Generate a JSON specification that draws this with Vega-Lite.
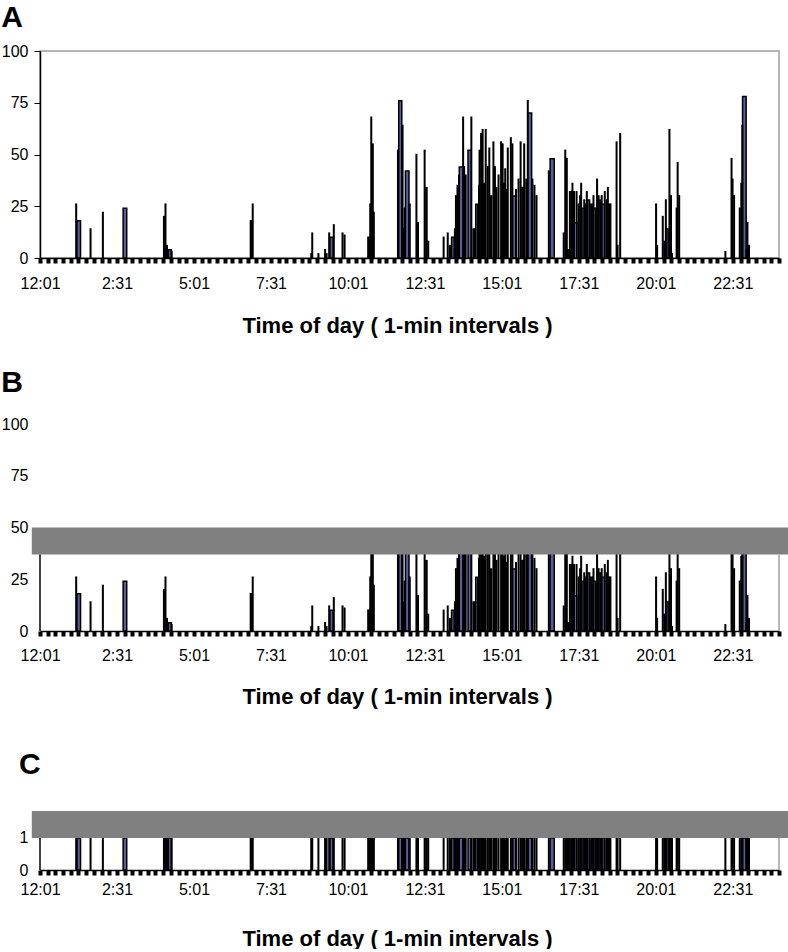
{
  "$schema": "https://vega.github.io/schema/vega-lite/v6.json",
  "padding": {"left": 0, "right": 0, "top": 2, "bottom": 0},
  "background": "white",
  "spacing": 31,
  "config": {
    "font": "Liberation Sans",
    "axis": {"labelFont": "Liberation Sans", "labelColor": "#000", "titleFont": "Liberation Sans", "titleColor": "#000", "grid": false},
    "title": {"font": "Liberation Sans", "fontWeight": "bold", "fontSize": 30, "anchor": "start", "color": "#000"}
  },
  "datasets": {
    "bars": [
      {"s": 72, "e": 79, "v": 18}, {"s": 162, "e": 169, "v": 24}, {"s": 250, "e": 256, "v": 4},
      {"s": 565, "e": 571, "v": 10}, {"s": 639, "e": 642, "v": 10}, {"s": 699, "e": 705, "v": 76},
      {"s": 712, "e": 719, "v": 42}, {"s": 752, "e": 754, "v": 34}, {"s": 798, "e": 800, "v": 6},
      {"s": 802, "e": 807, "v": 10}, {"s": 817, "e": 824, "v": 44}, {"s": 834, "e": 840, "v": 52},
      {"s": 849, "e": 853, "v": 26}, {"s": 864, "e": 866, "v": 36}, {"s": 877, "e": 880, "v": 30},
      {"s": 903, "e": 905, "v": 36}, {"s": 921, "e": 927, "v": 30}, {"s": 939, "e": 942, "v": 34},
      {"s": 951, "e": 958, "v": 70}, {"s": 994, "e": 1002, "v": 48}, {"s": 1027, "e": 1030, "v": 4},
      {"s": 1041, "e": 1046, "v": 17}, {"s": 1056, "e": 1060, "v": 24}, {"s": 1067, "e": 1071, "v": 28},
      {"s": 1079, "e": 1083, "v": 24}, {"s": 1095, "e": 1100, "v": 26}, {"s": 1107, "e": 1110, "v": 26},
      {"s": 1220, "e": 1224, "v": 14}, {"s": 1369, "e": 1376, "v": 78}, {"s": 246, "e": 248, "v": 6},
      {"s": 70, "e": 71, "v": 26}, {"s": 98, "e": 99, "v": 14}, {"s": 122, "e": 123, "v": 22},
      {"s": 241, "e": 242, "v": 20}, {"s": 244, "e": 245, "v": 26}, {"s": 256, "e": 257, "v": 3},
      {"s": 410, "e": 412, "v": 18}, {"s": 414, "e": 415, "v": 26}, {"s": 528, "e": 529, "v": 2},
      {"s": 530, "e": 531, "v": 12}, {"s": 542, "e": 543, "v": 2}, {"s": 555, "e": 556, "v": 4},
      {"s": 558, "e": 559, "v": 2}, {"s": 563, "e": 564, "v": 12}, {"s": 572, "e": 573, "v": 16},
      {"s": 589, "e": 590, "v": 12}, {"s": 593, "e": 594, "v": 11}, {"s": 643, "e": 644, "v": 26},
      {"s": 645, "e": 646, "v": 68}, {"s": 648, "e": 649, "v": 55}, {"s": 650, "e": 651, "v": 22},
      {"s": 697, "e": 698, "v": 52}, {"s": 706, "e": 707, "v": 64}, {"s": 708, "e": 709, "v": 14},
      {"s": 710, "e": 711, "v": 24}, {"s": 720, "e": 721, "v": 26}, {"s": 733, "e": 734, "v": 50},
      {"s": 736, "e": 737, "v": 17}, {"s": 749, "e": 750, "v": 52}, {"s": 756, "e": 757, "v": 8},
      {"s": 786, "e": 787, "v": 10}, {"s": 794, "e": 795, "v": 12}, {"s": 808, "e": 809, "v": 14},
      {"s": 810, "e": 811, "v": 30}, {"s": 813, "e": 814, "v": 35}, {"s": 816, "e": 817, "v": 40},
      {"s": 824, "e": 825, "v": 68}, {"s": 826, "e": 827, "v": 44}, {"s": 829, "e": 830, "v": 40},
      {"s": 840, "e": 841, "v": 68}, {"s": 844, "e": 845, "v": 14}, {"s": 847, "e": 848, "v": 14},
      {"s": 855, "e": 856, "v": 35}, {"s": 856, "e": 857, "v": 52}, {"s": 859, "e": 860, "v": 60},
      {"s": 862, "e": 863, "v": 62}, {"s": 868, "e": 869, "v": 62}, {"s": 872, "e": 873, "v": 44},
      {"s": 875, "e": 876, "v": 53}, {"s": 883, "e": 884, "v": 56}, {"s": 886, "e": 887, "v": 44},
      {"s": 889, "e": 890, "v": 34}, {"s": 893, "e": 894, "v": 40}, {"s": 898, "e": 899, "v": 56},
      {"s": 901, "e": 902, "v": 55}, {"s": 906, "e": 907, "v": 43}, {"s": 908, "e": 909, "v": 33},
      {"s": 911, "e": 912, "v": 53}, {"s": 917, "e": 918, "v": 58}, {"s": 920, "e": 921, "v": 55},
      {"s": 927, "e": 928, "v": 33}, {"s": 932, "e": 933, "v": 38}, {"s": 936, "e": 937, "v": 56},
      {"s": 943, "e": 944, "v": 55}, {"s": 947, "e": 948, "v": 38}, {"s": 950, "e": 951, "v": 76},
      {"s": 959, "e": 960, "v": 38}, {"s": 963, "e": 964, "v": 35}, {"s": 967, "e": 968, "v": 30},
      {"s": 991, "e": 992, "v": 42}, {"s": 1020, "e": 1021, "v": 12}, {"s": 1023, "e": 1024, "v": 52},
      {"s": 1026, "e": 1027, "v": 48}, {"s": 1032, "e": 1033, "v": 32}, {"s": 1035, "e": 1036, "v": 32},
      {"s": 1037, "e": 1038, "v": 36}, {"s": 1040, "e": 1041, "v": 32}, {"s": 1045, "e": 1046, "v": 32},
      {"s": 1049, "e": 1050, "v": 26}, {"s": 1052, "e": 1053, "v": 30}, {"s": 1054, "e": 1055, "v": 36},
      {"s": 1060, "e": 1061, "v": 28}, {"s": 1062, "e": 1063, "v": 26}, {"s": 1065, "e": 1066, "v": 32},
      {"s": 1071, "e": 1072, "v": 26}, {"s": 1075, "e": 1076, "v": 26}, {"s": 1078, "e": 1079, "v": 30},
      {"s": 1085, "e": 1086, "v": 38}, {"s": 1088, "e": 1089, "v": 30}, {"s": 1091, "e": 1092, "v": 28},
      {"s": 1094, "e": 1095, "v": 30}, {"s": 1100, "e": 1101, "v": 32}, {"s": 1104, "e": 1105, "v": 28},
      {"s": 1106, "e": 1107, "v": 34}, {"s": 1111, "e": 1112, "v": 26}, {"s": 1123, "e": 1124, "v": 56},
      {"s": 1125, "e": 1126, "v": 6}, {"s": 1130, "e": 1131, "v": 60}, {"s": 1200, "e": 1201, "v": 26},
      {"s": 1202, "e": 1203, "v": 6}, {"s": 1213, "e": 1214, "v": 20}, {"s": 1216, "e": 1217, "v": 8},
      {"s": 1219, "e": 1220, "v": 28}, {"s": 1226, "e": 1227, "v": 62}, {"s": 1229, "e": 1230, "v": 30},
      {"s": 1231, "e": 1232, "v": 2}, {"s": 1240, "e": 1241, "v": 24}, {"s": 1242, "e": 1243, "v": 46},
      {"s": 1245, "e": 1246, "v": 30}, {"s": 1335, "e": 1336, "v": 3}, {"s": 1347, "e": 1348, "v": 48},
      {"s": 1349, "e": 1350, "v": 38}, {"s": 1352, "e": 1353, "v": 30}, {"s": 1363, "e": 1364, "v": 24},
      {"s": 1366, "e": 1367, "v": 36}, {"s": 1368, "e": 1369, "v": 64}, {"s": 1376, "e": 1377, "v": 4},
      {"s": 1378, "e": 1379, "v": 17}, {"s": 1381, "e": 1382, "v": 6}
    ]
  },
  "vconcat": [
    {
      "title": {"text": "A", "offset": 10},
      "width": 739,
      "height": 207,
      "view": {"stroke": "#a0a0a0", "strokeWidth": 1.5},
      "layer": [
        {
          "data": {"name": "bars"},
          "mark": {"type": "bar", "fill": "#5c5ca0", "stroke": "#000", "strokeWidth": 1.5},
          "encoding": {
            "x": {"field": "s", "type": "quantitative", "scale": {"domain": [0, 1440], "nice": false, "zero": false},
              "axis": {"title": "Time of day ( 1-min intervals )", "titleFontSize": 22, "titleFontWeight": "bold", "titlePadding": 24, "titleX": 357,
                "values": [0,15,30,45,60,75,90,105,120,135,150,165,180,195,210,225,240,255,270,285,300,315,330,345,360,375,390,405,420,435,450,465,480,495,510,525,540,555,570,585,600,615,630,645,660,675,690,705,720,735,750,765,780,795,810,825,840,855,870,885,900,915,930,945,960,975,990,1005,1020,1035,1050,1065,1080,1095,1110,1125,1140,1155,1170,1185,1200,1215,1230,1245,1260,1275,1290,1305,1320,1335,1350,1365,1380,1395,1410,1425,1440],
                "labelExpr": "datum.value % 150 === 0 && datum.value < 1440 ? ['12:01','2:31','5:01','7:31','10:01','12:31','15:01','17:31','20:01','22:31'][datum.value / 150] : ''",
                "labelOverlap": false, "labelFlush": false, "labelFontSize": 16, "labelPadding": 12,
                "tickSize": 5, "tickWidth": 4, "tickColor": "#000", "domainColor": "#000", "domainWidth": 1.5}},
            "x2": {"field": "e"},
            "y": {"field": "v", "type": "quantitative", "stack": null, "scale": {"domain": [0, 100], "nice": false},
              "axis": {"title": null, "values": [0, 25, 50, 75, 100], "labelFontSize": 16, "tickSize": 6, "tickColor": "#000", "domainColor": "#000", "domainWidth": 1.5, "labelPadding": 6}},
            "y2": {"datum": 0},
            "order": {"field": "v", "sort": "descending"}
          }
        }
      ]
    },
    {
      "title": {"text": "B", "offset": 18},
      "width": 739,
      "height": 207,
      "view": {"stroke": null},
      "layer": [
        {
          "data": {"name": "bars"},
          "mark": {"type": "bar", "fill": "#5c5ca0", "stroke": "#000", "strokeWidth": 1.5},
          "encoding": {
            "x": {"field": "s", "type": "quantitative", "scale": {"domain": [0, 1440], "nice": false, "zero": false},
              "axis": {"title": ["Time of day ( 1-min intervals )", ""], "titleLineHeight": 12, "titleFontSize": 22, "titleFontWeight": "bold", "titlePadding": 23, "titleX": 357,
                "values": [0,15,30,45,60,75,90,105,120,135,150,165,180,195,210,225,240,255,270,285,300,315,330,345,360,375,390,405,420,435,450,465,480,495,510,525,540,555,570,585,600,615,630,645,660,675,690,705,720,735,750,765,780,795,810,825,840,855,870,885,900,915,930,945,960,975,990,1005,1020,1035,1050,1065,1080,1095,1110,1125,1140,1155,1170,1185,1200,1215,1230,1245,1260,1275,1290,1305,1320,1335,1350,1365,1380,1395,1410,1425,1440],
                "labelExpr": "datum.value % 150 === 0 && datum.value < 1440 ? ['12:01','2:31','5:01','7:31','10:01','12:31','15:01','17:31','20:01','22:31'][datum.value / 150] : ''",
                "labelOverlap": false, "labelFlush": false, "labelFontSize": 16, "labelPadding": 11,
                "tickSize": 5, "tickWidth": 4, "tickColor": "#000", "domainColor": "#000", "domainWidth": 1.5}},
            "x2": {"field": "e"},
            "y": {"field": "v", "type": "quantitative", "stack": null, "scale": {"domain": [0, 100], "nice": false},
              "axis": {"title": null, "values": [0, 25, 50, 75, 100], "labelFontSize": 16, "domain": false, "ticks": false, "labelPadding": 12}},
            "y2": {"datum": 0},
            "order": {"field": "v", "sort": "descending"}
          }
        },
        {
          "data": {"values": [{}]},
          "mark": {"type": "rect", "fill": "white"},
          "encoding": {
            "x": {"datum": 0, "type": "quantitative", "scale": {"domain": [0, 1440], "nice": false, "zero": false},
              "axis": {"title": ["Time of day ( 1-min intervals )", ""], "titleLineHeight": 12, "titleFontSize": 22, "titleFontWeight": "bold", "titlePadding": 23, "titleX": 357,
                "values": [0,15,30,45,60,75,90,105,120,135,150,165,180,195,210,225,240,255,270,285,300,315,330,345,360,375,390,405,420,435,450,465,480,495,510,525,540,555,570,585,600,615,630,645,660,675,690,705,720,735,750,765,780,795,810,825,840,855,870,885,900,915,930,945,960,975,990,1005,1020,1035,1050,1065,1080,1095,1110,1125,1140,1155,1170,1185,1200,1215,1230,1245,1260,1275,1290,1305,1320,1335,1350,1365,1380,1395,1410,1425,1440],
                "labelExpr": "datum.value % 150 === 0 && datum.value < 1440 ? ['12:01','2:31','5:01','7:31','10:01','12:31','15:01','17:31','20:01','22:31'][datum.value / 150] : ''",
                "labelOverlap": false, "labelFlush": false, "labelFontSize": 16, "labelPadding": 11,
                "tickSize": 5, "tickWidth": 4, "tickColor": "#000", "domainColor": "#000", "domainWidth": 1.5}},
            "x2": {"datum": 1440},
            "y": {"datum": 49, "type": "quantitative", "scale": {"domain": [0, 100], "nice": false},
              "axis": {"title": null, "values": [0, 25, 50, 75, 100], "labelFontSize": 16, "domain": false, "ticks": false, "labelPadding": 12}},
            "y2": {"datum": 100}
          }
        },
        {
          "data": {"values": [{}]},
          "mark": {"type": "rect", "fill": "#808080"},
          "encoding": {
            "x": {"datum": -16, "type": "quantitative", "scale": {"domain": [0, 1440], "nice": false, "zero": false},
              "axis": {"title": ["Time of day ( 1-min intervals )", ""], "titleLineHeight": 12, "titleFontSize": 22, "titleFontWeight": "bold", "titlePadding": 23, "titleX": 357,
                "values": [0,15,30,45,60,75,90,105,120,135,150,165,180,195,210,225,240,255,270,285,300,315,330,345,360,375,390,405,420,435,450,465,480,495,510,525,540,555,570,585,600,615,630,645,660,675,690,705,720,735,750,765,780,795,810,825,840,855,870,885,900,915,930,945,960,975,990,1005,1020,1035,1050,1065,1080,1095,1110,1125,1140,1155,1170,1185,1200,1215,1230,1245,1260,1275,1290,1305,1320,1335,1350,1365,1380,1395,1410,1425,1440],
                "labelExpr": "datum.value % 150 === 0 && datum.value < 1440 ? ['12:01','2:31','5:01','7:31','10:01','12:31','15:01','17:31','20:01','22:31'][datum.value / 150] : ''",
                "labelOverlap": false, "labelFlush": false, "labelFontSize": 16, "labelPadding": 11,
                "tickSize": 5, "tickWidth": 4, "tickColor": "#000", "domainColor": "#000", "domainWidth": 1.5}},
            "x2": {"datum": 1458},
            "y": {"datum": 37, "type": "quantitative", "scale": {"domain": [0, 100], "nice": false},
              "axis": {"title": null, "values": [0, 25, 50, 75, 100], "labelFontSize": 16, "domain": false, "ticks": false, "labelPadding": 12}},
            "y2": {"datum": 50}
          }
        },
        {
          "data": {"values": [{}]},
          "mark": {"type": "rule", "color": "#000", "strokeWidth": 1.5},
          "encoding": {
            "x": {"datum": 0, "type": "quantitative", "scale": {"domain": [0, 1440], "nice": false, "zero": false},
              "axis": {"title": ["Time of day ( 1-min intervals )", ""], "titleLineHeight": 12, "titleFontSize": 22, "titleFontWeight": "bold", "titlePadding": 23, "titleX": 357,
                "values": [0,15,30,45,60,75,90,105,120,135,150,165,180,195,210,225,240,255,270,285,300,315,330,345,360,375,390,405,420,435,450,465,480,495,510,525,540,555,570,585,600,615,630,645,660,675,690,705,720,735,750,765,780,795,810,825,840,855,870,885,900,915,930,945,960,975,990,1005,1020,1035,1050,1065,1080,1095,1110,1125,1140,1155,1170,1185,1200,1215,1230,1245,1260,1275,1290,1305,1320,1335,1350,1365,1380,1395,1410,1425,1440],
                "labelExpr": "datum.value % 150 === 0 && datum.value < 1440 ? ['12:01','2:31','5:01','7:31','10:01','12:31','15:01','17:31','20:01','22:31'][datum.value / 150] : ''",
                "labelOverlap": false, "labelFlush": false, "labelFontSize": 16, "labelPadding": 11,
                "tickSize": 5, "tickWidth": 4, "tickColor": "#000", "domainColor": "#000", "domainWidth": 1.5}},
            "y": {"datum": 0, "type": "quantitative", "scale": {"domain": [0, 100], "nice": false},
              "axis": {"title": null, "values": [0, 25, 50, 75, 100], "labelFontSize": 16, "domain": false, "ticks": false, "labelPadding": 12}},
            "y2": {"datum": 37}
          }
        },
        {
          "data": {"values": [{}]},
          "mark": {"type": "rule", "color": "#a0a0a0", "strokeWidth": 1.5},
          "encoding": {
            "x": {"datum": 1440, "type": "quantitative", "scale": {"domain": [0, 1440], "nice": false, "zero": false},
              "axis": {"title": ["Time of day ( 1-min intervals )", ""], "titleLineHeight": 12, "titleFontSize": 22, "titleFontWeight": "bold", "titlePadding": 23, "titleX": 357,
                "values": [0,15,30,45,60,75,90,105,120,135,150,165,180,195,210,225,240,255,270,285,300,315,330,345,360,375,390,405,420,435,450,465,480,495,510,525,540,555,570,585,600,615,630,645,660,675,690,705,720,735,750,765,780,795,810,825,840,855,870,885,900,915,930,945,960,975,990,1005,1020,1035,1050,1065,1080,1095,1110,1125,1140,1155,1170,1185,1200,1215,1230,1245,1260,1275,1290,1305,1320,1335,1350,1365,1380,1395,1410,1425,1440],
                "labelExpr": "datum.value % 150 === 0 && datum.value < 1440 ? ['12:01','2:31','5:01','7:31','10:01','12:31','15:01','17:31','20:01','22:31'][datum.value / 150] : ''",
                "labelOverlap": false, "labelFlush": false, "labelFontSize": 16, "labelPadding": 11,
                "tickSize": 5, "tickWidth": 4, "tickColor": "#000", "domainColor": "#000", "domainWidth": 1.5}},
            "y": {"datum": 0, "type": "quantitative", "scale": {"domain": [0, 100], "nice": false},
              "axis": {"title": null, "values": [0, 25, 50, 75, 100], "labelFontSize": 16, "domain": false, "ticks": false, "labelPadding": 12}},
            "y2": {"datum": 37}
          }
        }
      ]
    },
    {
      "title": {"text": "C", "offset": 31},
      "width": 739,
      "height": 59,
      "view": {"stroke": null},
      "layer": [
        {
          "data": {"name": "bars"},
          "mark": {"type": "bar", "fill": "#5c5ca0", "stroke": "#000", "strokeWidth": 1.5},
          "encoding": {
            "x": {"field": "s", "type": "quantitative", "scale": {"domain": [0, 1440], "nice": false, "zero": false},
              "axis": {"title": "Time of day ( 1-min intervals )", "titleFontSize": 22, "titleFontWeight": "bold", "titlePadding": 31, "titleX": 357,
                "values": [0,15,30,45,60,75,90,105,120,135,150,165,180,195,210,225,240,255,270,285,300,315,330,345,360,375,390,405,420,435,450,465,480,495,510,525,540,555,570,585,600,615,630,645,660,675,690,705,720,735,750,765,780,795,810,825,840,855,870,885,900,915,930,945,960,975,990,1005,1020,1035,1050,1065,1080,1095,1110,1125,1140,1155,1170,1185,1200,1215,1230,1245,1260,1275,1290,1305,1320,1335,1350,1365,1380,1395,1410,1425,1440],
                "labelExpr": "datum.value % 150 === 0 && datum.value < 1440 ? ['12:01','2:31','5:01','7:31','10:01','12:31','15:01','17:31','20:01','22:31'][datum.value / 150] : ''",
                "labelOverlap": false, "labelFlush": false, "labelFontSize": 16, "labelPadding": 6,
                "tickSize": 5, "tickWidth": 4, "tickColor": "#000", "domainColor": "#000", "domainWidth": 1.5}},
            "x2": {"field": "e"},
            "y": {"datum": 1, "type": "quantitative", "scale": {"domain": [0, 1.84], "nice": false},
              "axis": {"title": null, "values": [0, 1], "labelFontSize": 16, "domain": false, "ticks": false, "labelPadding": 12}},
            "y2": {"datum": 0}
          }
        },
        {
          "data": {"values": [{}]},
          "mark": {"type": "rect", "fill": "#808080"},
          "encoding": {
            "x": {"datum": -16, "type": "quantitative", "scale": {"domain": [0, 1440], "nice": false, "zero": false},
              "axis": {"title": "Time of day ( 1-min intervals )", "titleFontSize": 22, "titleFontWeight": "bold", "titlePadding": 31, "titleX": 357,
                "values": [0,15,30,45,60,75,90,105,120,135,150,165,180,195,210,225,240,255,270,285,300,315,330,345,360,375,390,405,420,435,450,465,480,495,510,525,540,555,570,585,600,615,630,645,660,675,690,705,720,735,750,765,780,795,810,825,840,855,870,885,900,915,930,945,960,975,990,1005,1020,1035,1050,1065,1080,1095,1110,1125,1140,1155,1170,1185,1200,1215,1230,1245,1260,1275,1290,1305,1320,1335,1350,1365,1380,1395,1410,1425,1440],
                "labelExpr": "datum.value % 150 === 0 && datum.value < 1440 ? ['12:01','2:31','5:01','7:31','10:01','12:31','15:01','17:31','20:01','22:31'][datum.value / 150] : ''",
                "labelOverlap": false, "labelFlush": false, "labelFontSize": 16, "labelPadding": 6,
                "tickSize": 5, "tickWidth": 4, "tickColor": "#000", "domainColor": "#000", "domainWidth": 1.5}},
            "x2": {"datum": 1458},
            "y": {"datum": 1, "type": "quantitative", "scale": {"domain": [0, 1.84], "nice": false},
              "axis": {"title": null, "values": [0, 1], "labelFontSize": 16, "domain": false, "ticks": false, "labelPadding": 12}},
            "y2": {"datum": 1.84}
          }
        },
        {
          "data": {"values": [{}]},
          "mark": {"type": "rule", "color": "#000", "strokeWidth": 1.5},
          "encoding": {
            "x": {"datum": 0, "type": "quantitative", "scale": {"domain": [0, 1440], "nice": false, "zero": false},
              "axis": {"title": "Time of day ( 1-min intervals )", "titleFontSize": 22, "titleFontWeight": "bold", "titlePadding": 31, "titleX": 357,
                "values": [0,15,30,45,60,75,90,105,120,135,150,165,180,195,210,225,240,255,270,285,300,315,330,345,360,375,390,405,420,435,450,465,480,495,510,525,540,555,570,585,600,615,630,645,660,675,690,705,720,735,750,765,780,795,810,825,840,855,870,885,900,915,930,945,960,975,990,1005,1020,1035,1050,1065,1080,1095,1110,1125,1140,1155,1170,1185,1200,1215,1230,1245,1260,1275,1290,1305,1320,1335,1350,1365,1380,1395,1410,1425,1440],
                "labelExpr": "datum.value % 150 === 0 && datum.value < 1440 ? ['12:01','2:31','5:01','7:31','10:01','12:31','15:01','17:31','20:01','22:31'][datum.value / 150] : ''",
                "labelOverlap": false, "labelFlush": false, "labelFontSize": 16, "labelPadding": 6,
                "tickSize": 5, "tickWidth": 4, "tickColor": "#000", "domainColor": "#000", "domainWidth": 1.5}},
            "y": {"datum": 0, "type": "quantitative", "scale": {"domain": [0, 1.84], "nice": false},
              "axis": {"title": null, "values": [0, 1], "labelFontSize": 16, "domain": false, "ticks": false, "labelPadding": 12}},
            "y2": {"datum": 1}
          }
        },
        {
          "data": {"values": [{}]},
          "mark": {"type": "rule", "color": "#a0a0a0", "strokeWidth": 1.5},
          "encoding": {
            "x": {"datum": 1440, "type": "quantitative", "scale": {"domain": [0, 1440], "nice": false, "zero": false},
              "axis": {"title": "Time of day ( 1-min intervals )", "titleFontSize": 22, "titleFontWeight": "bold", "titlePadding": 31, "titleX": 357,
                "values": [0,15,30,45,60,75,90,105,120,135,150,165,180,195,210,225,240,255,270,285,300,315,330,345,360,375,390,405,420,435,450,465,480,495,510,525,540,555,570,585,600,615,630,645,660,675,690,705,720,735,750,765,780,795,810,825,840,855,870,885,900,915,930,945,960,975,990,1005,1020,1035,1050,1065,1080,1095,1110,1125,1140,1155,1170,1185,1200,1215,1230,1245,1260,1275,1290,1305,1320,1335,1350,1365,1380,1395,1410,1425,1440],
                "labelExpr": "datum.value % 150 === 0 && datum.value < 1440 ? ['12:01','2:31','5:01','7:31','10:01','12:31','15:01','17:31','20:01','22:31'][datum.value / 150] : ''",
                "labelOverlap": false, "labelFlush": false, "labelFontSize": 16, "labelPadding": 6,
                "tickSize": 5, "tickWidth": 4, "tickColor": "#000", "domainColor": "#000", "domainWidth": 1.5}},
            "y": {"datum": 0, "type": "quantitative", "scale": {"domain": [0, 1.84], "nice": false},
              "axis": {"title": null, "values": [0, 1], "labelFontSize": 16, "domain": false, "ticks": false, "labelPadding": 12}},
            "y2": {"datum": 1}
          }
        }
      ]
    }
  ]
}
